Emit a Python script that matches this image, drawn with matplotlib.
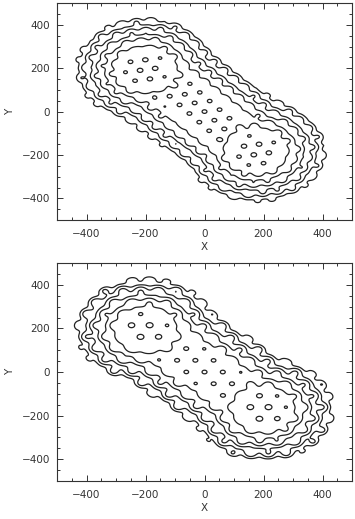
import numpy as np
import matplotlib
matplotlib.use("Agg")
import matplotlib.pyplot as plt
from matplotlib.ticker import MultipleLocator

# ---- values ----
# lobe centres (x, y) for the two panels
top_lobe_x = [-200, 175]
top_lobe_y = [195, -180]
bot_lobe_x = [-200, 200]
bot_lobe_y = [195, -170]

# radius of the outermost contour and of the 6th contour around a lobe
outer_r = 232
sixth_r = 112
# size of the flat core of each lobe
top_core = 105
bot_core = 105

# how far the bridge between lobes sits below the lobes (in distance units)
top_waist = 23.5
bot_waist = 25.5

# clump spacing (the wiggles), clump width as fraction of spacing,
# lattice rotation, and wiggle strength at the edge / in the core
top_spacing = 52
bot_spacing = 62
top_width = 0.40
bot_width = 0.40
top_angle = 10
bot_angle = 0
top_gain = [3.4, 1.8]
bot_gain = [5.0, 1.8]

efold = 50.0
n_levels = 7

tick_vals = [-400, -200, 0, 200, 400]


def lobe_d(r, core):
    return (r**6 + core**6) ** (1 / 6)


def envelope_dist(px, py, lx, ly, core, waist):
    d = []
    for cx, cy in zip(lx, ly):
        d.append(lobe_d(np.hypot(px - cx, py - cy), core))
    ax_, ay_ = lx[0], ly[0]
    vx, vy = lx[1] - ax_, ly[1] - ay_
    t = ((px - ax_) * vx + (py - ay_) * vy) / (vx * vx + vy * vy)
    t = np.clip(t, 0, 1)
    perp = np.hypot(px - (ax_ + t * vx), py - (ay_ + t * vy))
    d.append(lobe_d(perp, core) + waist)
    d = np.array(d)
    tau = 6.0
    m = d.min(axis=0)
    return m - tau * np.log(np.exp(-(d - m) / tau).sum(axis=0))


def density(lx, ly, core, waist, spacing, width, angle, gain, dlev):
    g = np.linspace(-500, 500, 401)
    X, Y = np.meshgrid(g, g)
    rows = np.arange(-16, 17)
    C, R = np.meshgrid(rows, rows)
    qx = ((C + 0.5 * (R % 2)) * spacing).ravel()
    qy = (R * spacing * np.sqrt(3) / 2).ravel()
    a = np.radians(angle)
    px = qx * np.cos(a) - qy * np.sin(a)
    py = qx * np.sin(a) + qy * np.cos(a)
    sig = width * spacing
    M = np.zeros_like(X)
    for x0, y0 in zip(px, py):
        M += np.exp(-((X - x0) ** 2 + (Y - y0) ** 2) / (2 * sig**2))
    M /= 2 * np.pi * sig**2 / (spacing**2 * np.sqrt(3) / 2)
    D = envelope_dist(X, Y, lx, ly, core, waist)
    frac = np.clip((D - dlev[-1]) / (dlev[0] - dlev[-1]), 0, 1)
    gg = gain[1] + (gain[0] - gain[1]) * frac
    # fade the wiggles out beyond the outermost contour
    gg = gg * np.exp(-np.clip(D - dlev[0], 0, None) / 15)
    return g, -D / efold + gg * np.log(M)


plt.rcParams['font.family'] = 'DejaVu Sans'
fig = plt.figure(figsize=(3.55, 5.19), dpi=100)
ax1 = fig.add_axes([0.1606, 0.576, 0.831, 0.418])
ax2 = fig.add_axes([0.1606, 0.0732, 0.831, 0.420])

panels = [
    (ax1, top_lobe_x, top_lobe_y, top_core, top_waist, top_spacing,
     top_width, top_angle, top_gain),
    (ax2, bot_lobe_x, bot_lobe_y, bot_core, bot_waist, bot_spacing,
     bot_width, bot_angle, bot_gain),
]

for ax, lx, ly, core, waist, sp, wd, ang, gain in panels:
    d1 = lobe_d(outer_r, core)
    d6 = lobe_d(sixth_r, core)
    dlev = d1 + (d6 - d1) / 5 * np.arange(n_levels)
    g, F = density(lx, ly, core, waist, sp, wd, ang, gain, dlev)
    ax.contour(g, g, F, levels=np.sort(-dlev / efold), colors='#222222',
               linewidths=0.9, linestyles='solid')
    ax.set_xlim(-500, 500)
    ax.set_ylim(-500, 500)
    ax.set_xticks(tick_vals)
    ax.set_yticks(tick_vals)
    ax.set_xticklabels([str(v).replace('-', '\u2212') for v in tick_vals])
    ax.set_yticklabels([str(v).replace('-', '\u2212') for v in tick_vals])
    ax.xaxis.set_minor_locator(MultipleLocator(50))
    ax.yaxis.set_minor_locator(MultipleLocator(50))
    ax.tick_params(which='both', direction='in', top=True, right=True,
                   labelsize=7.5, colors='#333333', width=0.7)
    ax.tick_params(which='major', length=4.5)
    ax.tick_params(axis='x', which='major', pad=6.5)
    ax.tick_params(axis='y', which='major', pad=5)
    ax.tick_params(which='minor', length=2.2)
    for s in ax.spines.values():
        s.set_linewidth(0.8)
        s.set_color('#333333')
    ax.set_xlabel('X', fontsize=7.5, color='#333333', labelpad=2)
    ax.set_ylabel('Y', fontsize=7.5, color='#333333', labelpad=5)

fig.savefig('out.png', dpi=100)
